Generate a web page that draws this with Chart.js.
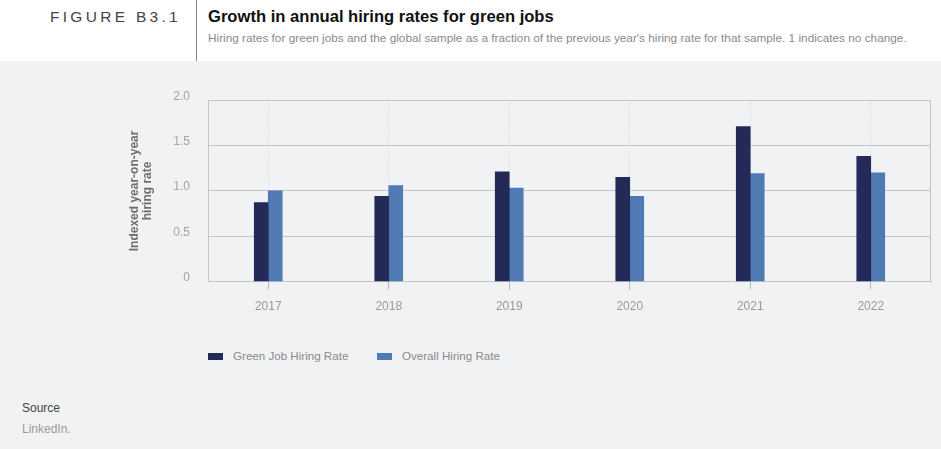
<!DOCTYPE html>
<html>
<head>
<meta charset="utf-8">
<script src="https://cdn.jsdelivr.net/npm/chart.js@4/dist/chart.umd.min.js"></script>
<style>
  html, body { margin: 0; padding: 0; }
  body { width: 941px; height: 449px; background: #f1f2f4; font-family: "Liberation Sans", Arial, sans-serif; position: relative; overflow: hidden; }
  .head { position: absolute; left: 0; top: 0; width: 941px; height: 61px; background: #fff; }
  .fig { position: absolute; right: 760px; top: 8px; font-size: 15.5px; letter-spacing: 3.3px; color: #444; }
  .divider { position: absolute; left: 196px; top: 0; width: 1px; height: 61px; background: #888; }
  .title { position: absolute; left: 208px; top: 7px; font-size: 16.6px; font-weight: bold; color: #111; }
  .sub { position: absolute; left: 208px; top: 31px; font-size: 11.8px; color: #8a8a8a; }
  .wrap { position: absolute; left: 0; top: 75px; width: 941px; height: 249px; }
  .legend { position: absolute; top: 349px; font-size: 11.6px; color: #8a8a8a; }
  .legend span.sw { position: absolute; top: 4px; width: 15px; height: 7px; }
  .legend span.tx { position: absolute; left: 25px; top: 0; white-space: nowrap; }
  .src { position: absolute; left: 22px; top: 401px; font-size: 12px; color: #444; }
  .src2 { position: absolute; left: 22px; top: 422px; font-size: 12px; color: #9a9a9a; }
</style>
</head>
<body>
<div class="head">
  <div class="fig">FIGURE B3.1</div>
  <div class="divider"></div>
  <div class="title">Growth in annual hiring rates for green jobs</div>
  <div class="sub">Hiring rates for green jobs and the global sample as a fraction of the previous year's hiring rate for that sample. 1 indicates no change.</div>
</div>
<div class="wrap"><canvas id="chart"></canvas></div>
<div id="legend"></div>
<div class="src">Source</div>
<div class="src2">LinkedIn.</div>
<script>
var YEARS = ['2017', '2018', '2019', '2020', '2021', '2022'];
var SERIES_NAMES = ['Green Job Hiring Rate', 'Overall Hiring Rate'];
var GREEN_RATE = [0.87, 0.94, 1.21, 1.15, 1.71, 1.38];
var OVERALL_RATE = [1.00, 1.06, 1.03, 0.94, 1.19, 1.20];
var Y_TICKS = [0, 0.5, 1.0, 1.5, 2.0];

var COLORS = ['#232a57', '#4f7ab4'];
var GRID = '#c4c6ca';

// frame round the plot area (top and right edges)
var framePlugin = {
  id: 'frame',
  afterDatasetsDraw: function(chart) {
    var a = chart.chartArea, ctx = chart.ctx;
    ctx.save();
    ctx.strokeStyle = GRID;
    ctx.lineWidth = 1;
    ctx.beginPath();
    ctx.moveTo(Math.round(a.left) + 0.5, Math.round(a.top) + 0.5);
    ctx.lineTo(Math.round(a.right) - 0.5, Math.round(a.top) + 0.5);
    ctx.lineTo(Math.round(a.right) - 0.5, Math.round(a.bottom));
    ctx.stroke();
    ctx.restore();
  }
};

var ctx = document.getElementById('chart');
var myChart = new Chart(ctx, {
  type: 'bar',
  data: {
    labels: YEARS,
    datasets: [
      { label: SERIES_NAMES[0], data: GREEN_RATE, backgroundColor: COLORS[0], barThickness: 14 },
      { label: SERIES_NAMES[1], data: OVERALL_RATE, backgroundColor: COLORS[1], barThickness: 14 }
    ]
  },
  options: {
    responsive: true,
    maintainAspectRatio: false,
    animation: false,
    layout: { padding: { left: 128, right: 10, top: 11, bottom: 0 } },
    plugins: { legend: { display: false }, tooltip: { enabled: false } },
    scales: {
      x: {
        offset: true,
        grid: { offset: false, color: '#d3d5d9', tickColor: '#b5b7bb', tickLength: 8, tickBorderDash: [] },
        border: { display: true, color: GRID, dash: [1, 2] },
        ticks: { color: '#9a9a9a', font: { family: 'Liberation Sans', size: 12 }, padding: 10 }
      },
      y: {
        min: 0, max: 2,
        afterFit: function(scale) { scale.width = 80; },
        afterBuildTicks: function(scale) {
          scale.ticks = Y_TICKS.map(function(v) { return { value: v }; });
        },
        grid: { color: GRID, drawTicks: false },
        border: { display: true, color: GRID },
        ticks: {
          color: '#a3a3a3', padding: 18, labelOffset: -4,
          font: { family: 'Liberation Sans', size: 12 },
          callback: function(v) { return v === 0 ? '0' : v.toFixed(1); }
        },
        title: {
          display: true,
          text: ['Indexed year-on-year', 'hiring rate'],
          color: '#6e6e6e',
          font: { family: 'Liberation Sans', size: 12, weight: 'bold', lineHeight: 1.1 },
          padding: { top: 0, bottom: 0 }
        }
      }
    }
  },
  plugins: [framePlugin]
});

// legend below the plot
var legendX = [208, 377];
var legendHtml = '';
SERIES_NAMES.forEach(function(name, i) {
  legendHtml += '<div class="legend" style="left:' + legendX[i] + 'px">' +
    '<span class="sw" style="background:' + COLORS[i] + '"></span>' +
    '<span class="tx">' + name + '</span></div>';
});
document.getElementById('legend').innerHTML = legendHtml;
</script>
</body>
</html>
